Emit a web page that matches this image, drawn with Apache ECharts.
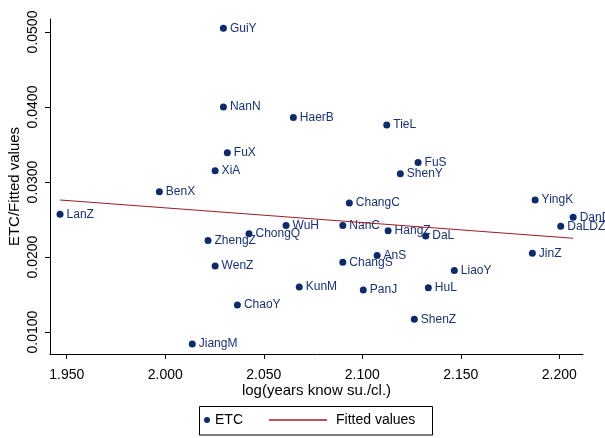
<!DOCTYPE html>
<html>
<head>
<meta charset="utf-8">
<script src="https://cdn.jsdelivr.net/npm/echarts@6/dist/echarts.min.js"></script>
<style>html,body{margin:0;padding:0;background:#fff;}#c{width:605px;height:438px;}</style>
</head>
<body>
<div id="c"></div>
<script>
const cities = ['GuiY','NanN','HaerB','TieL','FuX','XiA','BenX','LanZ','JiangM','ZhengZ','WenZ','ChaoY','ChongQ','WuH','KunM','ChangC','NanC','ChangS','PanJ','AnS','HangZ','FuS','ShenY','DaL','LiaoY','HuL','YingK','DanD','DaLDZ','JinZ','ShenZ'];
const logYears = [2.0295,2.0295,2.0650,2.1124,2.0315,2.0253,1.9970,1.9466,2.0137,2.0217,2.0253,2.0366,2.0425,2.0613,2.0680,2.0934,2.0901,2.0901,2.1005,2.1075,2.1131,2.1283,2.1193,2.1322,2.1467,2.1335,2.1877,2.2070,2.2007,2.1863,2.1264];
const etc = [0.0505,0.0400,0.0386,0.0376,0.0339,0.0315,0.0287,0.0257,0.0084,0.0222,0.0188,0.0136,0.0231,0.0242,0.0160,0.0272,0.0242,0.0193,0.0156,0.0202,0.0235,0.0326,0.0311,0.0228,0.0182,0.0159,0.0276,0.0253,0.0241,0.0205,0.0117];
const fitX = [1.9466, 2.2070];
const fitY = [0.0276, 0.0225];
const xTicks = [1.95, 2.00, 2.05, 2.10, 2.15, 2.20];
const yTicks = [0.01, 0.02, 0.03, 0.04, 0.05];

const FONT = 'Liberation Sans, Arial, Helvetica, sans-serif';
const NAVY = '#0f2a68';
const MAROON = '#9e1b2a';

const scatterData = cities.map((n, i) => [logYears[i], etc[i], n]);
const fitData = fitX.map((x, i) => [x, fitY[i]]);

const chart = echarts.init(document.getElementById('c'), null, {renderer: 'canvas'});
chart.setOption({
  animation: false,
  backgroundColor: '#fff',
  textStyle: {fontFamily: FONT},
  grid: {left: 50, right: 22, top: 19, bottom: 84, containLabel: false, outerBoundsMode: 'none'},
  xAxis: {
    type: 'value', min: 1.9415, max: 2.2120,
    name: 'log(years know su./cl.)', nameLocation: 'middle', nameGap: 29, nameMoveOverlap: false,
    nameTextStyle: {fontSize: 15, color: '#000', fontFamily: FONT},
    axisLine: {show: true, onZero: false, lineStyle: {color: '#000', width: 1}},
    axisTick: {show: true, length: 5, customValues: xTicks, lineStyle: {color: '#000'}},
    axisLabel: {customValues: xTicks, fontSize: 14, color: '#000', margin: 14, fontFamily: FONT,
      formatter: v => v.toFixed(3)},
    splitLine: {show: false}
  },
  yAxis: {
    type: 'value', min: 0.00707, max: 0.05173,
    name: 'ETC/Fitted values', nameLocation: 'middle', nameGap: 28, nameMoveOverlap: false,
    nameTextStyle: {fontSize: 15, color: '#000', fontFamily: FONT},
    axisLine: {show: true, onZero: false, lineStyle: {color: '#000', width: 1}},
    axisTick: {show: true, length: 5, customValues: yTicks, lineStyle: {color: '#000'}},
    axisLabel: {customValues: yTicks, fontSize: 14, color: '#000', margin: 10, rotate: 90, fontFamily: FONT,
      formatter: v => v.toFixed(4)},
    splitLine: {show: false}
  },
  legend: [
    {data: [{name: 'ETC', icon: 'circle'}], left: 204, top: 413, itemWidth: 6, itemHeight: 6,
     textStyle: {fontSize: 14, color: '#000', fontFamily: FONT}, padding: 0},
    {data: [{name: 'Fitted values', icon: 'rect'}], left: 269, top: 413, itemWidth: 58, itemHeight: 1.3,
     textStyle: {fontSize: 14, color: '#000', fontFamily: FONT, padding: [0, 0, 0, 4]}, padding: 0}
  ],
  graphic: [{
    type: 'rect', shape: {x: 199.5, y: 406.5, width: 233, height: 28.5},
    style: {fill: 'none', stroke: '#000', lineWidth: 1}, silent: true
  }],
  series: [
    {
      name: 'ETC', type: 'scatter', data: scatterData, symbol: 'circle', symbolSize: 7,
      itemStyle: {color: NAVY, opacity: 1},
      label: {show: true, position: 'right', distance: 3, formatter: p => p.data[2],
        fontSize: 12, color: '#1a3272', fontFamily: FONT},
      z: 2
    },
    {
      name: 'Fitted values', type: 'line', data: fitData, symbol: 'none',
      lineStyle: {color: MAROON, width: 1.2}, itemStyle: {color: MAROON}, z: 3
    }
  ]
});
</script>
</body>
</html>
